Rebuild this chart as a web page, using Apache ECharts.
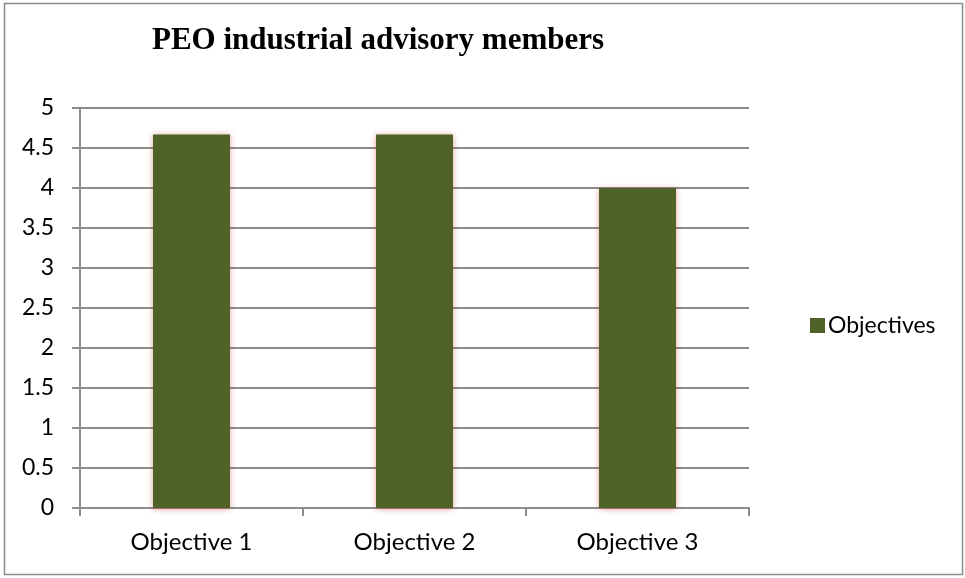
<!DOCTYPE html>
<html>
<head>
<meta charset="utf-8">
<script src="https://cdn.jsdelivr.net/npm/echarts@6/dist/echarts.min.js"></script>
<style>
  html, body { margin: 0; padding: 0; background: #ffffff; }
  #chart { width: 965px; height: 578px; }
</style>
</head>
<body>
<div id="chart"></div>
<script>
// Survey averages per objective
const categories = ['Objective 1', 'Objective 2', 'Objective 3'];
const objectiveScores = [4.67, 4.67, 4.0];
const seriesName = 'Objectives';
const chartTitle = 'PEO industrial advisory members';

const chart = echarts.init(document.getElementById('chart'));

chart.setOption({
  backgroundColor: '#ffffff',
  animation: false,
  title: {
    text: chartTitle,
    left: 147,
    top: 20,
    textStyle: {
      fontFamily: '"Liberation Serif", "Times New Roman", serif',
      fontWeight: 'bold',
      fontSize: 31,
      color: '#000000'
    }
  },
  legend: {
    data: [seriesName],
    left: 805,
    top: 309,
    icon: 'rect',
    itemWidth: 15,
    itemHeight: 15,
    itemGap: 6,
    textStyle: {
      fontFamily: 'Lato, sans-serif',
      fontSize: 23,
      color: '#000000',
      padding: [0, 0, 0, -2]
    }
  },
  graphic: [{
    type: 'rect',
    shape: { x: 4.5, y: 3.5, width: 958, height: 571 },
    style: { fill: 'none', stroke: '#8c8c8c', lineWidth: 1.5 },
    silent: true,
    z: -1
  }],
  grid: {
    left: 80,
    right: 216,
    top: 108,
    bottom: 70,
    containLabel: false
  },
  xAxis: {
    type: 'category',
    data: categories,
    axisLine: { lineStyle: { color: '#8c8c8c', width: 2 } },
    axisTick: { show: true, length: 8, lineStyle: { color: '#8c8c8c', width: 2 } },
    axisLabel: {
      margin: 22,
      fontFamily: 'Lato, sans-serif',
      fontSize: 24,
      color: '#000000'
    },
    splitLine: { show: false }
  },
  yAxis: {
    type: 'value',
    min: 0,
    max: 5,
    interval: 0.5,
    axisLine: { show: true, lineStyle: { color: '#8c8c8c', width: 2 } },
    axisTick: { show: true, length: 8, lineStyle: { color: '#8c8c8c', width: 2 } },
    axisLabel: {
      margin: 26,
      fontFamily: 'Lato, sans-serif',
      fontSize: 23,
      color: '#000000'
    },
    splitLine: { show: true, lineStyle: { color: '#8c8c8c', width: 2 } }
  },
  series: [{
    name: seriesName,
    type: 'bar',
    data: objectiveScores,
    barWidth: 77,
    itemStyle: {
      color: '#4f6228',
      shadowColor: 'rgba(200, 40, 40, 0.45)',
      shadowBlur: 6,
      shadowOffsetY: 1
    }
  }]
});
</script>
</body>
</html>
